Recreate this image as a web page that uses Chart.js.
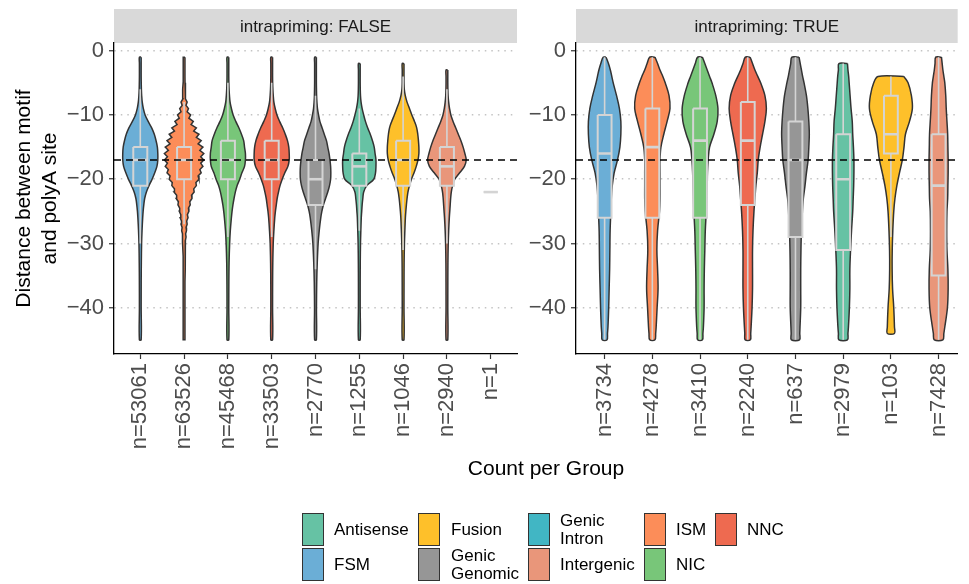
<!DOCTYPE html>
<html><head><meta charset="utf-8">
<script src="https://cdn.jsdelivr.net/npm/chart.js@4.4.1/dist/chart.umd.min.js"></script>
<style>
html,body{margin:0;padding:0;background:#fff;}
#wrap{position:relative;width:969px;height:584px;overflow:hidden;font-family:"Liberation Sans",Arial,Helvetica,sans-serif;}
canvas{position:absolute;left:0;top:0;}
#xtitle{position:absolute;left:346px;width:400px;top:457px;text-align:center;font-size:21px;line-height:21px;color:#000;}
.sw{position:absolute;width:20px;height:31px;border:1.6px solid #333;}
.lt{position:absolute;height:34px;display:flex;align-items:center;font-size:17px;line-height:18px;color:#000;white-space:pre;}
</style></head><body>
<div id="wrap">
<canvas id="cF" width="969" height="584"></canvas>
<canvas id="cT" width="969" height="584"></canvas>
<div id="xtitle">Count per Group</div>
<div id="legend"></div>
</div>
<script>
// ---------- data ----------
const categoriesF = ['FSM','ISM','NIC','NNC','Genic Genomic','Antisense','Fusion','Intergenic','Genic Intron'];
const countsF = [53061,63526,45468,33503,2770,1255,1046,2940,1];
const categoriesT = ['FSM','ISM','NIC','NNC','Genic Genomic','Antisense','Fusion','Intergenic'];
const countsT = [3734,4278,3410,2240,637,2979,103,7428];
const yTicks = [0,-10,-20,-30,-40];
const refLine = -17;

// box statistics, intrapriming FALSE
const boxHiF   = [-15,-15,-14,-14,-17,-16,-14,-15,-22];
const medianF  = [-17,-17,-17,-17,-20,-18,-17,-18,-22];
const boxLoF   = [-21,-20,-20,-20,-24,-21,-21,-21,-22];
const whiskHiF = [-6,-8,-5,-5,-7,-9,-4,-6,-22];
const whiskLoF = [-30,-27,-29,-29,-34,-28,-31,-30,-22];
// box statistics, intrapriming TRUE
const boxHiT   = [-10,-9,-9,-8,-11,-13,-7,-13];
const medianT  = [-16,-15,-14,-14,-17,-20,-13,-21];
const boxLoT   = [-26,-26,-26,-24,-29,-31,-16,-35];
const whiskHiT = [-1,-1,-1,-1,-1,-2,-4,-1];
const whiskLoT = [-45,-45,-45,-45,-45,-45,-29,-45];

// violin half-widths (category units) along y grids, intrapriming FALSE
const gridF = [-1,-2,-3,-4,-5,-6,-7,-8,-9,-10,-11,-12,-13,-14,-15,-16,-17,-18,-19,-20,-21,-22,-23,-24,-25,-26,-28,-30,-33,-36,-40,-45];
const vF_FSM    = [.02,.02,.02,.02,.022,.025,.032,.045,.07,.11,.18,.26,.32,.36,.39,.40,.40,.38,.33,.27,.2,.14,.1,.08,.065,.055,.04,.03,.024,.021,.02,.02];
const vF_NIC    = [.02,.02,.02,.02,.022,.027,.036,.05,.08,.12,.18,.25,.31,.36,.38,.40,.40,.38,.32,.27,.21,.17,.14,.115,.095,.08,.055,.04,.027,.022,.02,.02];
const vF_NNC    = [.02,.02,.02,.02,.022,.027,.036,.05,.08,.12,.18,.25,.31,.36,.39,.40,.40,.37,.30,.24,.19,.155,.125,.105,.085,.07,.05,.035,.025,.021,.02,.02];
const vF_GG     = [.02,.02,.02,.02,.02,.022,.025,.032,.045,.07,.1,.15,.2,.25,.28,.31,.33,.345,.35,.345,.32,.28,.23,.18,.145,.12,.085,.06,.04,.028,.022,.02];
const vF_Anti   = [null,.02,.02,.02,.02,.022,.027,.04,.065,.1,.14,.19,.25,.3,.34,.36,.38,.38,.37,.33,.17,.1,.08,.065,.055,.045,.035,.027,.022,.02,.02,.02];
const vF_Fusion = [null,.02,.02,.02,.02,.027,.05,.09,.145,.2,.26,.31,.335,.35,.36,.36,.34,.3,.25,.19,.145,.11,.09,.075,.062,.052,.04,.03,.023,.021,.02,.02];
const vF_Inter  = [null,null,.02,.02,.02,.022,.027,.04,.06,.09,.14,.2,.26,.32,.37,.41,.44,.4,.29,.18,.13,.1,.085,.075,.065,.055,.04,.03,.023,.021,.02,.02];
const gridF_ISM = [-1,-2,-3,-4,-5,-6,-7,-7.5,-8,-8.5,-9,-9.5,-10,-10.5,-11,-11.5,-12,-12.5,-13,-13.5,-14,-14.5,-15,-15.5,-16,-16.5,-17,-17.5,-18,-18.5,-19,-19.5,-20,-20.5,-21,-21.5,-22,-22.5,-23,-23.5,-24,-24.5,-25,-25.5,-26,-26.5,-27,-27.5,-28,-28.5,-29,-29.5,-30,-32,-34,-36,-40,-45];
const vF_ISM    = [.02,.02,.02,.02,.022,.025,.04,.028,.07,.045,.1,.07,.15,.11,.21,.16,.28,.22,.34,.28,.39,.32,.43,.36,.45,.38,.45,.38,.43,.36,.39,.32,.34,.27,.28,.22,.23,.17,.18,.13,.14,.1,.11,.075,.09,.06,.07,.045,.055,.035,.045,.03,.035,.024,.021,.02,.02,.02];

// violin half-widths, intrapriming TRUE
const gridT = [-1,-2,-3,-4,-5,-7,-9,-11,-13,-15,-17,-19,-21,-23,-25,-28,-31,-34,-37,-40,-43,-44,-45];
const vT_FSM    = [.03,.08,.12,.15,.18,.25,.31,.34,.34,.32,.27,.2,.16,.14,.13,.115,.11,.105,.095,.085,.07,.06,.05];
const vT_ISM    = [.055,.11,.16,.22,.27,.35,.37,.31,.24,.18,.16,.16,.16,.16,.15,.11,.095,.11,.12,.1,.08,.07,.055];
const vT_NIC    = [.05,.1,.15,.2,.25,.33,.375,.36,.29,.2,.17,.155,.15,.14,.13,.11,.1,.09,.085,.085,.07,.06,.05];
const vT_NNC    = [.05,.1,.15,.21,.27,.36,.39,.36,.31,.26,.22,.2,.17,.15,.13,.11,.1,.1,.1,.09,.07,.062,.055];
const vT_GG     = [.075,.1,.125,.15,.18,.23,.26,.28,.29,.28,.265,.23,.2,.165,.145,.125,.115,.11,.11,.11,.095,.09,.085];
const vT_Anti   = [null,.09,.1,.115,.125,.145,.165,.19,.2,.215,.225,.225,.22,.21,.2,.175,.155,.14,.14,.13,.11,.1,.09];
const vT_Fusion = [null,null,null,.27,.36,.43,.45,.39,.305,.275,.24,.18,.125,.085,.06,.04,.028,.026,.035,.06,.075,.075,null];
const vT_Inter  = [.06,.075,.09,.11,.13,.15,.16,.175,.19,.195,.2,.2,.195,.19,.175,.17,.175,.195,.2,.185,.13,.11,.09];

const legendLabels = ['Antisense','FSM','Fusion','Genic\nGenomic','Genic\nIntron','Intergenic','ISM','NIC','NNC'];
const legendKeys = ['Antisense','FSM','Fusion','Genic Genomic','Genic Intron','Intergenic','ISM','NIC','NNC'];

// ---------- style ----------
const family = '"Liberation Sans", Arial, Helvetica, sans-serif';
Chart.defaults.font.family = family;
const colors = {'FSM':'#6baed6','ISM':'#fc8d59','NIC':'#78c679','NNC':'#ee6a50','Genic Genomic':'#969696',
  'Antisense':'#66c2a4','Fusion':'#fec02a','Intergenic':'#e9967a','Genic Intron':'#41b6c4'};
const boxLine = '#d4d4d4';

function violinPoints(c, grid, w) {
  const right = [], left = [];
  grid.forEach((y, i) => { if (w[i] != null) { right.push({x: c + w[i], y}); left.push({x: c - w[i], y}); } });
  const pts = right.concat(left.reverse());
  pts.push(pts[0]);
  return pts;
}

function buildDatasets(p) {
  const ds = [];
  p.cats.forEach((cat, i) => {
    const col = colors[cat];
    if (p.violins[i]) {
      const [grid, w, tension] = p.violins[i];
      ds.push({data: violinPoints(i, grid, w), showLine: true, fill: 'shape', backgroundColor: col,
        borderColor: '#333333', borderWidth: 1.5, pointRadius: 0, tension: tension, order: 4});
    }
    ds.push({data: [{x: i, y: p.wHi[i]}, {x: i, y: p.wLo[i]}], showLine: true, borderColor: boxLine,
      borderWidth: 1.6, pointRadius: 0, order: 3});
    const b = p.bw;
    ds.push({data: [{x: i - b, y: p.hi[i]}, {x: i + b, y: p.hi[i]}, {x: i + b, y: p.lo[i]}, {x: i - b, y: p.lo[i]}, {x: i - b, y: p.hi[i]}],
      showLine: true, fill: 'shape', backgroundColor: col, borderColor: boxLine, borderWidth: 2, pointRadius: 0, order: 2});
    ds.push({data: [{x: i - b, y: p.med[i]}, {x: i + b, y: p.med[i]}], showLine: true, borderColor: boxLine,
      borderWidth: 2.6, pointRadius: 0, order: 1});
  });
  ds.push({data: [{x: -0.6, y: refLine}, {x: p.xMax, y: refLine}], showLine: true, borderColor: '#000',
    borderWidth: 1.6, borderDash: [7, 5], pointRadius: 0, order: 0});
  return ds;
}

const stripPlugin = {
  id: 'strip',
  beforeDraw(chart, args, opts) {
    const {ctx, chartArea} = chart;
    ctx.save();
    ctx.fillStyle = '#d9d9d9';
    ctx.fillRect(chartArea.left, chartArea.top - 34, chartArea.right - chartArea.left, 34);
    ctx.fillStyle = '#1a1a1a';
    ctx.font = '17px ' + family;
    ctx.textAlign = 'center';
    ctx.textBaseline = 'middle';
    ctx.fillText(opts.text, (chartArea.left + chartArea.right) / 2, chartArea.top - 16);
    ctx.restore();
  }
};

function makeChart(id, p) {
  return new Chart(document.getElementById(id), {
    type: 'scatter',
    data: {datasets: buildDatasets(p)},
    plugins: [stripPlugin],
    options: {
      responsive: false, animation: false, devicePixelRatio: 1, events: [],
      layout: {padding: {left: p.padL, right: p.padR, top: 43, bottom: 0}},
      plugins: {legend: {display: false}, tooltip: {enabled: false}, strip: {text: p.strip}},
      scales: {
        x: {type: 'linear', min: -0.6, max: p.xMax,
          afterBuildTicks: s => { s.ticks = p.counts.map((c, i) => ({value: i})); },
          afterFit: s => { s.height = 230; },
          ticks: {autoSkip: false, minRotation: 90, maxRotation: 90, padding: 4, color: '#4d4d4d',
            font: {size: 22}, callback: (v, i) => 'n=' + p.counts[i]},
          grid: {drawOnChartArea: false, drawTicks: true, tickLength: 5, tickColor: '#333', tickWidth: 1.2},
          border: {display: true, color: '#000', width: 1.3}},
        y: {type: 'linear', min: -47.2, max: 1.2,
          afterBuildTicks: s => { s.ticks = yTicks.map(v => ({value: v})); },
          afterFit: s => { s.width = p.yW; },
          ticks: {padding: 5, color: '#4d4d4d', font: {size: 22},
            callback: v => String(v).replace('-', '\u2212')},
          grid: {color: '#c4c4c4', lineWidth: 1.5, drawTicks: true, tickLength: 5, tickColor: '#333', tickWidth: 1.2},
          border: {display: true, color: '#000', width: 1.3, dash: [1.5, 5]},
          title: {display: p.yTitle, text: ['Distance between motif', 'and polyA site'], color: '#000',
            font: {size: 21, lineHeight: 1.2}, padding: {top: 12, bottom: 0}}}
      }
    }
  });
}

makeChart('cF', {
  cats: categoriesF, counts: countsF, strip: 'intrapriming: FALSE',
  violins: [[gridF, vF_FSM, 0.35], [gridF_ISM, vF_ISM, 0], [gridF, vF_NIC, 0.35], [gridF, vF_NNC, 0.35],
            [gridF, vF_GG, 0.35], [gridF, vF_Anti, 0.35], [gridF, vF_Fusion, 0.35], [gridF, vF_Inter, 0.35], null],
  hi: boxHiF, med: medianF, lo: boxLoF, wHi: whiskHiF, wLo: whiskLoF,
  bw: 0.16, xMax: 8.6, padL: 0, yW: 114, padR: 452, yTitle: true
});
makeChart('cT', {
  cats: categoriesT, counts: countsT, strip: 'intrapriming: TRUE',
  violins: [[gridT, vT_FSM, 0.35], [gridT, vT_ISM, 0.35], [gridT, vT_NIC, 0.35], [gridT, vT_NNC, 0.35],
            [gridT, vT_GG, 0.35], [gridT, vT_Anti, 0.35], [gridT, vT_Fusion, 0.35], [gridT, vT_Inter, 0.35]],
  hi: boxHiT, med: medianT, lo: boxLoT, wHi: whiskHiT, wLo: whiskLoT,
  bw: 0.145, xMax: 7.4, padL: 516, yW: 60, padR: 0, yTitle: false
});

// ---------- legend ----------
const swX = [302, 418, 528, 644, 715];
const txX = [334, 451, 560, 676, 747];
const rowY = [513, 548];
const leg = document.getElementById('legend');
legendLabels.forEach((lab, k) => {
  const col = Math.floor(k / 2), row = k % 2;
  const sw = document.createElement('div');
  sw.className = 'sw';
  sw.style.left = swX[col] + 'px'; sw.style.top = rowY[row] + 'px';
  sw.style.background = colors[legendKeys[k]];
  leg.appendChild(sw);
  const t = document.createElement('div');
  t.className = 'lt';
  t.style.left = txX[col] + 'px'; t.style.top = rowY[row] + 'px';
  t.textContent = lab;
  leg.appendChild(t);
});
</script>
</body></html>
